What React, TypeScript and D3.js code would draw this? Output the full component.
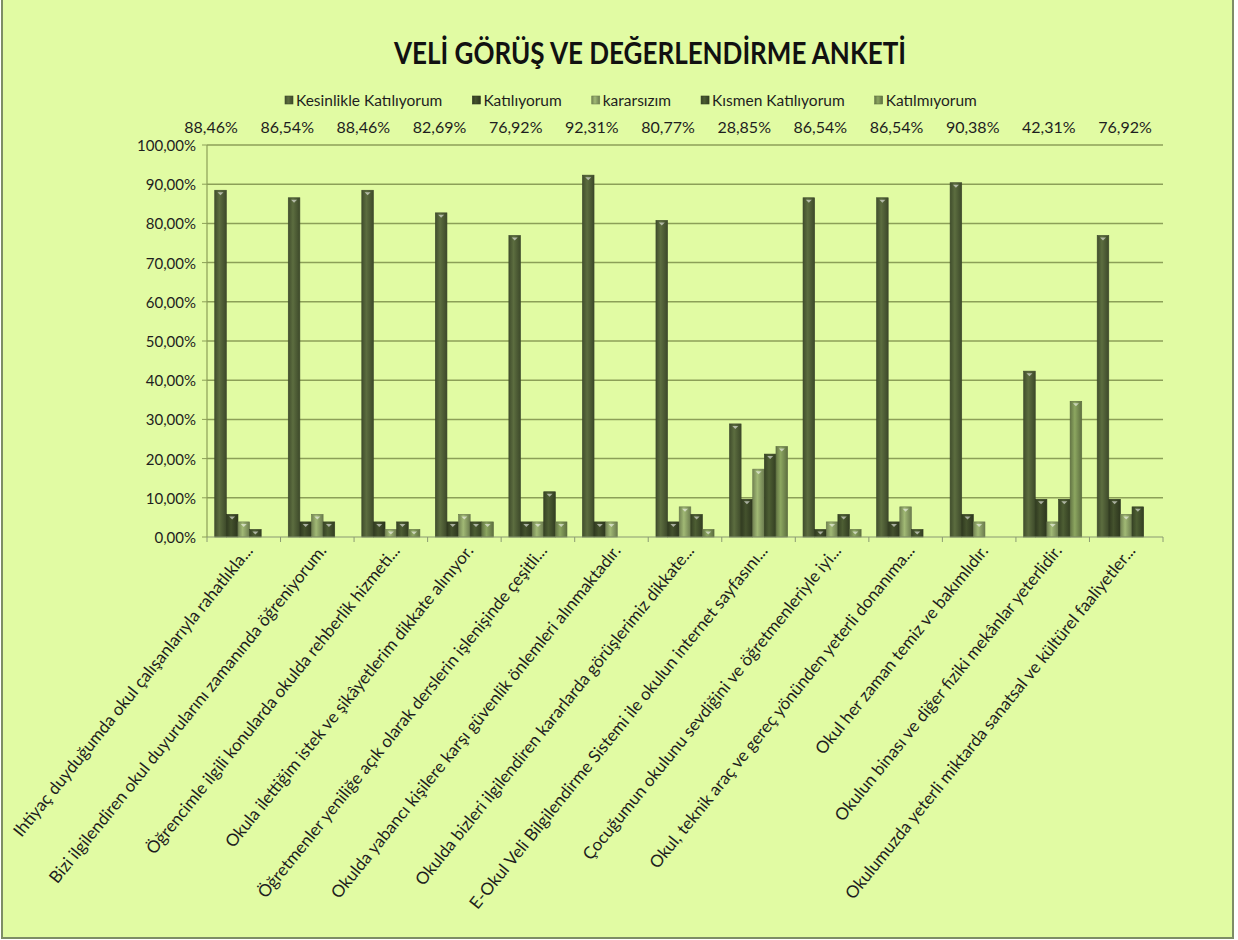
import React, { useRef, useEffect } from "react";
import * as d3 from "d3";

const W = 1238;
const H = 940;
const plot = { left: 207, right: 1163, top: 145, bottom: 537 };

const categories = [
  "Ihtiyaç duyduğumda okul çalışanlarıyla rahatlıkla...",
  "Bizi ilgilendiren okul duyurularını zamanında öğreniyorum.",
  "Öğrencimle ilgili konularda okulda rehberlik hizmeti...",
  "Okula ilettiğim istek ve şikâyetlerim dikkate alınıyor.",
  "Öğretmenler yeniliğe açık olarak derslerin işlenişinde çeşitli...",
  "Okulda yabancı kişilere karşı güvenlik önlemleri alınmaktadır.",
  "Okulda bizleri ilgilendiren kararlarda görüşlerimiz dikkate...",
  "E-Okul Veli Bilgilendirme Sistemi ile okulun internet sayfasını...",
  "Çocuğumun okulunu sevdiğini ve öğretmenleriyle iyi...",
  "Okul, teknik araç ve gereç yönünden yeterli donanıma...",
  "Okul her zaman temiz ve bakımlıdır.",
  "Okulun binası ve diğer fiziki mekânlar yeterlidir.",
  "Okulumuzda yeterli miktarda sanatsal ve kültürel faaliyetler...",
];

const seriesNames = [
  "Kesinlikle Katılıyorum",
  "Katılıyorum",
  "kararsızım",
  "Kısmen Katılıyorum",
  "Katılmıyorum",
];

const kesinlikle = [88.46, 86.54, 88.46, 82.69, 76.92, 92.31, 80.77, 28.85, 86.54, 86.54, 90.38, 42.31, 76.92];
const katiliyorum = [5.77, 3.85, 3.85, 3.85, 3.85, 3.85, 3.85, 9.62, 1.92, 3.85, 5.77, 9.62, 9.62];
const kararsizim = [3.85, 5.77, 1.92, 5.77, 3.85, 3.85, 7.69, 17.31, 3.85, 7.69, 3.85, 3.85, 5.77];
const kismen = [1.92, 3.85, 3.85, 3.85, 11.54, 0, 5.77, 21.15, 5.77, 1.92, 0, 9.62, 7.69];
const katilmiyorum = [0, 0, 1.92, 3.85, 3.85, 0, 1.92, 23.08, 1.92, 0, 0, 34.62, 0];

const seriesValues = [kesinlikle, katiliyorum, kararsizim, kismen, katilmiyorum];
const seriesColors = ["#54643a", "#3e4b29", "#93a96b", "#46562f", "#809858"];

const yTicks = [0, 10, 20, 30, 40, 50, 60, 70, 80, 90, 100];

const fmt = (v: number) => d3.format(".2f")(v).replace(".", ",") + "%";
const font = "Lato, 'Open Sans', sans-serif";

const Legend = () => {
  const ref = useRef<SVGGElement>(null);
  useEffect(() => {
    const g = d3.select(ref.current);
    g.selectAll("*").remove();
    let x = 0;
    seriesNames.forEach((name, i) => {
      const item = g.append("g").attr("transform", `translate(${x},0)`);
      item
        .append("rect")
        .attr("x", 0)
        .attr("y", -4)
        .attr("width", 8)
        .attr("height", 8)
        .attr("fill", `url(#grad${i})`)
        .attr("stroke", d3.color(seriesColors[i])!.darker(0.8).toString())
        .attr("stroke-width", 0.6);
      const t = item
        .append("text")
        .attr("x", 11)
        .attr("y", 5.5)
        .attr("font-family", font)
        .attr("font-size", 15.5)
        .attr("fill", "#1e1e1e")
        .text(name);
      const w = (t.node() as SVGTextElement).getComputedTextLength();
      x += 11 + w + 30;
    });
  }, []);
  return <g ref={ref} transform="translate(285,100)" />;
};

const App = () => {
  const x = d3
    .scaleBand<string>()
    .domain(categories)
    .range([plot.left, plot.right])
    .paddingInner(0.21)
    .paddingOuter(0.105);
  const xInner = d3
    .scaleBand<number>()
    .domain(d3.range(seriesNames.length))
    .range([0, x.bandwidth()]);
  const y = d3.scaleLinear().domain([0, 100]).range([plot.bottom, plot.top]);
  const step = x.step();
  const bounds = d3.range(categories.length + 1).map((i) => plot.left + i * step);
  // the numbers above the plot sit a bit apart from the groups
  const labelX = d3.scalePoint<string>().domain(categories).range([211, 1125]);

  return (
    <div style={{ width: W, height: H }}>
      <style>{`body{margin:0}`}</style>
      <svg width={W} height={H} style={{ display: "block" }}>
        <defs>
          {seriesColors.map((c, i) => (
            <linearGradient id={`grad${i}`} key={i} x1="0" x2="1" y1="0" y2="0">
              <stop offset="0%" stopColor={d3.color(c)!.darker(0.7).toString()} />
              <stop offset="40%" stopColor={d3.color(c)!.brighter(0.25).toString()} />
              <stop offset="100%" stopColor={d3.color(c)!.darker(0.9).toString()} />
            </linearGradient>
          ))}
        </defs>
        <rect x={2} y={-2} width={1231} height={940} fill="#e1fba3" stroke="#7d8d66" strokeWidth={2} />

        <text
          x={650}
          y={64}
          textAnchor="middle"
          fontFamily={font}
          fontWeight="bold"
          fontSize={30}
          fill="#111"
          textLength={512}
          lengthAdjust="spacingAndGlyphs"
        >
          VELİ GÖRÜŞ VE DEĞERLENDİRME ANKETİ
        </text>

        <Legend />

        {categories.map((c, i) => (
          <text
            key={c}
            x={labelX(c)}
            y={133}
            textAnchor="middle"
            fontFamily={font}
            fontSize={16}
            fill="#1e1e1e"
          >
            {fmt(kesinlikle[i])}
          </text>
        ))}

        {/* grid + y axis */}
        <g>
          {yTicks.map((t) => (
            <g key={t}>
              {t > 0 && (
                <line x1={plot.left} x2={plot.right} y1={y(t)} y2={y(t)} stroke="#8c9f58" strokeWidth={1.5} />
              )}
              <line x1={plot.left - 5} x2={plot.left} y1={y(t)} y2={y(t)} stroke="#8c9f58" strokeWidth={1} />
              <text
                x={196}
                y={y(t)}
                dy="0.4em"
                textAnchor="end"
                fontFamily={font}
                fontSize={15}
                fill="#1e1e1e"
              >
                {fmt(t)}
              </text>
            </g>
          ))}
          <line x1={plot.left} x2={plot.left} y1={plot.top} y2={plot.bottom} stroke="#8c9f58" strokeWidth={1.2} />
        </g>

        {/* bars */}
        {categories.map((c, ci) => (
          <g key={c} transform={`translate(${x(c)},0)`}>
            {seriesValues.map((vals, si) => {
              const v = vals[ci];
              if (!v) return null;
              const bx = xInner(si)!;
              const bw = xInner.bandwidth();
              const top = y(v);
              return (
                <g key={si}>
                  <rect
                    x={bx}
                    y={top}
                    width={bw}
                    height={y(0) - top}
                    fill={`url(#grad${si})`}
                    stroke={d3.color(seriesColors[si])!.darker(1).toString()}
                    strokeWidth={0.6}
                  />
                  <path
                    d={`M${bx + bw / 2 - 3},${top + 2} L${bx + bw / 2 + 3},${top + 2} L${bx + bw / 2},${top + 5} Z`}
                    fill="#ffffff"
                    opacity={0.55}
                  />
                </g>
              );
            })}
          </g>
        ))}

        {/* x axis */}
        <line x1={plot.left} x2={plot.right} y1={plot.bottom} y2={plot.bottom} stroke="#8a9a72" strokeWidth={1.2} />
        {bounds.map((bx, i) => (
          <line key={i} x1={bx} x2={bx} y1={plot.bottom} y2={plot.bottom + 5} stroke="#8a9a72" strokeWidth={1} />
        ))}

        {categories.map((c) => (
          <text
            key={c}
            transform={`translate(${x(c)! + x.bandwidth() / 2 + 10},${plot.bottom + 14}) rotate(-51)`}
            textAnchor="end"
            fontFamily={font}
            fontSize={17}
            fill="#1e1e1e"
          >
            {c}
          </text>
        ))}
      </svg>
    </div>
  );
};

export default App;
